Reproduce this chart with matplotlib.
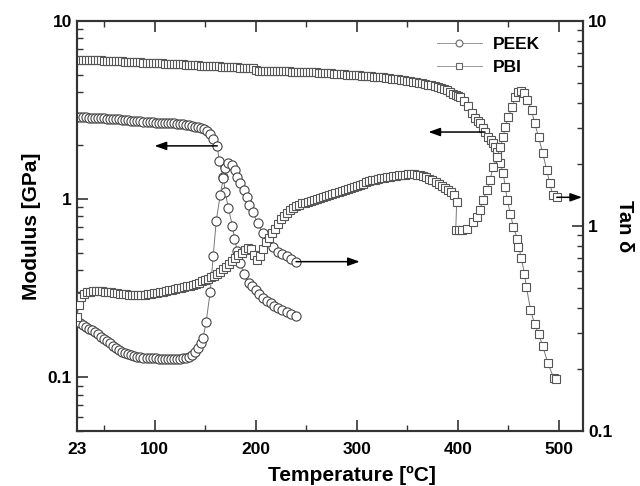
import matplotlib.pyplot as plt
from matplotlib.ticker import FixedLocator, FuncFormatter, LogLocator, NullFormatter

plt.rcParams['font.family'] = ['Liberation Sans', 'DejaVu Sans']
plt.rcParams['font.weight'] = 'bold'

# PEEK storage modulus [GPa] (left axis)
peek_mod_t = [23, 26, 29, 32, 35, 38, 41, 44, 47, 50,
              53, 56, 59, 62, 65, 68, 71, 74, 77, 80,
              83, 86, 89, 92, 95, 98, 101, 104, 107, 110,
              113, 116, 119, 122, 125, 128, 131, 134, 137, 140,
              143, 146, 149, 152, 155, 158, 162, 164, 168, 170,
              173, 177, 179, 182, 185, 188, 193, 196, 200, 203,
              207, 211, 215, 218, 222, 226, 231, 235, 240]
peek_mod = [2.90, 2.89, 2.89, 2.88, 2.87, 2.86, 2.86, 2.85, 2.85, 2.84,
            2.83, 2.83, 2.82, 2.81, 2.80, 2.79, 2.78, 2.77, 2.76, 2.76,
            2.75, 2.74, 2.72, 2.71, 2.70, 2.70, 2.69, 2.69, 2.68, 2.68,
            2.67, 2.67, 2.66, 2.65, 2.64, 2.63, 2.61, 2.59, 2.57, 2.55,
            2.53, 2.50, 2.46, 2.40, 2.32, 2.17, 1.99, 1.63, 1.33, 1.09,
            0.89, 0.71, 0.60, 0.51, 0.44, 0.38, 0.34, 0.325, 0.31, 0.295,
            0.28, 0.27, 0.26, 0.252, 0.244, 0.238, 0.232, 0.226, 0.220]

# PEEK tan delta (right axis)
peek_tan_t = [23, 26, 29, 32, 35, 38, 41, 44, 47, 50,
              53, 56, 59, 62, 65, 68, 71, 74, 77, 80,
              83, 86, 89, 92, 95, 98, 101, 104, 107, 110,
              113, 116, 119, 122, 125, 128, 131, 134, 137, 140,
              143, 146, 148, 151, 155, 158, 161, 165, 168, 170,
              173, 177, 180, 182, 185, 188, 191, 193, 197, 202,
              207, 212, 217, 222, 226, 231, 235, 240]
peek_tan = [0.345, 0.337, 0.330, 0.323, 0.316, 0.312, 0.305, 0.297, 0.289, 0.281,
            0.274, 0.268, 0.261, 0.255, 0.249, 0.244, 0.240, 0.237, 0.234, 0.232,
            0.231, 0.230, 0.228, 0.227, 0.227, 0.226, 0.226, 0.225, 0.225, 0.225,
            0.225, 0.225, 0.225, 0.225, 0.225, 0.226, 0.228, 0.230, 0.235, 0.243,
            0.255, 0.268, 0.285, 0.340, 0.477, 0.714, 1.06, 1.42, 1.71, 1.92,
            2.03, 1.99, 1.88, 1.73, 1.62, 1.50, 1.38, 1.27, 1.17, 1.03,
            0.92, 0.85, 0.79, 0.75, 0.73, 0.71, 0.69, 0.67]

# PBI storage modulus [GPa] (left axis)
pbi_mod_t = [23, 26, 29, 32, 35, 38, 41, 44, 47, 50,
             53, 56, 59, 62, 65, 68, 71, 74, 77, 80,
             83, 86, 89, 92, 95, 98, 101, 104, 107, 110,
             113, 116, 119, 122, 125, 128, 131, 134, 137, 140,
             143, 146, 149, 152, 155, 158, 161, 164, 167, 170,
             173, 176, 179, 182, 185, 188, 191, 194, 197, 200,
             203, 206, 209, 212, 215, 218, 221, 224, 227, 230,
             233, 236, 239, 242, 245, 248, 251, 254, 257, 260,
             263, 266, 269, 272, 275, 278, 281, 284, 287, 290,
             293, 296, 299, 302, 305, 308, 311, 314, 317, 320,
             323, 326, 329, 332, 335, 338, 341, 344, 347, 350,
             353, 356, 359, 362, 365, 368, 371, 374, 377, 380,
             383, 386, 389, 392, 395, 398, 400, 402, 406, 410,
             414, 417, 420, 422, 425, 427, 430, 433, 435, 437,
             439, 442, 445, 447, 449, 452, 455, 459, 460, 463,
             466, 468, 472, 476, 480, 484, 489, 495, 497]
pbi_mod = [6.05, 6.05, 6.04, 6.04, 6.03, 6.02, 6.02, 6.01, 6.00, 5.98,
           5.97, 5.96, 5.95, 5.94, 5.93, 5.92, 5.91, 5.90, 5.89, 5.88,
           5.86, 5.85, 5.84, 5.83, 5.82, 5.81, 5.80, 5.79, 5.77, 5.76,
           5.75, 5.74, 5.73, 5.72, 5.71, 5.70, 5.68, 5.67, 5.66, 5.65,
           5.63, 5.62, 5.61, 5.59, 5.58, 5.57, 5.56, 5.55, 5.53, 5.52,
           5.51, 5.50, 5.49, 5.48, 5.47, 5.46, 5.45, 5.44, 5.43, 5.30,
           5.25, 5.24, 5.23, 5.23, 5.23, 5.22, 5.22, 5.22, 5.21, 5.21,
           5.21, 5.20, 5.20, 5.20, 5.19, 5.18, 5.18, 5.17, 5.16, 5.15,
           5.13, 5.12, 5.10, 5.09, 5.07, 5.06, 5.04, 5.03, 5.01, 5.00,
           4.99, 4.97, 4.96, 4.95, 4.93, 4.92, 4.90, 4.89, 4.87, 4.86,
           4.84, 4.82, 4.80, 4.78, 4.75, 4.73, 4.70, 4.68, 4.65, 4.62,
           4.59, 4.56, 4.53, 4.50, 4.46, 4.43, 4.39, 4.35, 4.31, 4.27,
           4.22, 4.16, 4.10, 4.00, 3.90, 3.84, 3.80, 3.74, 3.55, 3.33,
           3.05, 2.85, 2.75, 2.67, 2.50, 2.38, 2.23, 2.15, 2.07, 1.95,
           1.84, 1.59, 1.40, 1.17, 0.99, 0.83, 0.70, 0.60, 0.54, 0.47,
           0.38, 0.32, 0.24, 0.20, 0.175, 0.151, 0.121, 0.099, 0.098]

# PBI tan delta (right axis)
pbi_tan_t = [23, 25, 27, 30, 33, 36, 39, 42, 45, 48,
             51, 54, 57, 60, 63, 66, 69, 72, 75, 78,
             81, 84, 87, 90, 93, 96, 99, 102, 105, 108,
             111, 114, 117, 120, 123, 126, 129, 132, 135, 138,
             141, 144, 147, 150, 153, 156, 159, 162, 165, 168,
             171, 174, 177, 180, 183, 186, 189, 192, 195, 198,
             201, 204, 207, 210, 213, 216, 219, 222, 225, 228,
             231, 234, 237, 240, 243, 246, 249, 252, 255, 258,
             261, 264, 267, 270, 273, 276, 279, 282, 285, 288,
             291, 294, 297, 300, 303, 306, 309, 312, 315, 318,
             321, 324, 327, 330, 333, 336, 339, 342, 345, 348,
             351, 354, 357, 360, 363, 366, 369, 372, 375, 378,
             381, 384, 387, 390, 393, 396, 399, 398, 401, 404,
             409, 415, 419, 422, 425, 429, 432, 435, 439, 442,
             445, 447, 450, 454, 457, 460, 463, 466, 469, 473,
             476, 480, 484, 488, 491, 494, 498]
pbi_tan = [0.36, 0.41, 0.45, 0.466, 0.474, 0.478, 0.481, 0.482, 0.482, 0.480,
           0.478, 0.476, 0.474, 0.472, 0.470, 0.468, 0.466, 0.465, 0.463, 0.462,
           0.461, 0.460, 0.460, 0.461, 0.464, 0.467, 0.470, 0.473, 0.476, 0.479,
           0.482, 0.485, 0.488, 0.492, 0.496, 0.500, 0.504, 0.508, 0.512, 0.517,
           0.523, 0.530, 0.537, 0.545, 0.554, 0.563, 0.573, 0.585, 0.598, 0.614,
           0.632, 0.652, 0.675, 0.700, 0.721, 0.742, 0.763, 0.785, 0.77, 0.72,
           0.68, 0.71, 0.77, 0.84, 0.87, 0.92, 0.97, 1.02, 1.08, 1.12,
           1.16, 1.20, 1.23, 1.25, 1.27, 1.29, 1.30, 1.31, 1.33, 1.34,
           1.36, 1.37, 1.38, 1.40, 1.41, 1.43, 1.45, 1.46, 1.48, 1.50,
           1.52, 1.53, 1.55, 1.57, 1.59, 1.61, 1.63, 1.65, 1.67, 1.68,
           1.70, 1.71, 1.72, 1.73, 1.74, 1.75, 1.76, 1.77, 1.78, 1.78,
           1.79, 1.79, 1.79, 1.78, 1.77, 1.75, 1.73, 1.70, 1.67, 1.63,
           1.60, 1.56, 1.53, 1.49, 1.46, 1.42, 1.31, 0.96, 0.96, 0.96,
           0.97, 1.05, 1.11, 1.20, 1.34, 1.50, 1.68, 1.94, 2.17, 2.43,
           2.72, 3.04, 3.40, 3.81, 4.26, 4.50, 4.56, 4.46, 4.12, 3.68,
           3.18, 2.72, 2.27, 1.88, 1.62, 1.42, 1.38]

x_ticks = [23, 100, 200, 300, 400, 500]
x_minor = [50, 150, 250, 350, 450]

fig = plt.figure(figsize=(6.4, 4.86), dpi=100)
ax = fig.add_axes([0.120, 0.113, 0.791, 0.844])
ax2 = ax.twinx()

line_kw = dict(color='#777777', lw=0.7, mfc='white', mew=0.8)
circ_kw = dict(marker='o', ms=6.6, mec='#444444', **line_kw)
sq_kw = dict(marker='s', ms=5.8, mec='#555555', **line_kw)

l1, = ax.plot(peek_mod_t, peek_mod, label='PEEK', zorder=3, **circ_kw)
l2, = ax.plot(pbi_mod_t, pbi_mod, label='PBI', zorder=3, **sq_kw)
ax2.plot(peek_tan_t, peek_tan, zorder=3, **circ_kw)
ax2.plot(pbi_tan_t, pbi_tan, zorder=3, **sq_kw)

ax.set_yscale('log')
ax2.set_yscale('log')
ax.set_xlim(23, 524)
ax.set_ylim(0.05, 10)
ax2.set_ylim(0.1, 10)

# arrows pointing each curve at its axis
arr = dict(arrowstyle='-|>,head_length=0.7,head_width=0.25', color='black',
           lw=1.1, shrinkA=0, shrinkB=0)
ax.annotate('', xy=(100, 1.99), xytext=(162, 1.99), arrowprops=arr, zorder=4)
ax.annotate('', xy=(371, 2.38), xytext=(427, 2.38), arrowprops=arr, zorder=4)
ax2.annotate('', xy=(303, 0.67), xytext=(240, 0.67), arrowprops=arr, zorder=4)
ax2.annotate('', xy=(523, 1.38), xytext=(498, 1.38), arrowprops=arr, zorder=4)

fmt = FuncFormatter(lambda v, p: '%g' % v)
ax.xaxis.set_major_locator(FixedLocator(x_ticks))
ax.xaxis.set_minor_locator(FixedLocator(x_minor))
for a in (ax, ax2):
    a.yaxis.set_major_locator(LogLocator(base=10, numticks=10))
    a.yaxis.set_minor_locator(LogLocator(base=10, subs=range(2, 10), numticks=20))
    a.yaxis.set_major_formatter(fmt)
    a.yaxis.set_minor_formatter(NullFormatter())
    a.tick_params(which='major', direction='in', length=8, width=1.2,
                  labelsize=12.5, colors='#333333', labelcolor='black')
    a.tick_params(which='minor', direction='in', length=4, width=1.0,
                  colors='#333333')
ax.tick_params(axis='x', which='both', top=True)
ax.tick_params(axis='x', which='major', pad=8)

for a in (ax, ax2):
    for s in a.spines.values():
        s.set_linewidth(1.5)
        s.set_color('#333333')

ax.set_xlabel('Temperature [ºC]', fontsize=15, fontweight='bold', labelpad=4)
ax.xaxis.set_label_coords(0.543, -0.085)
ax.set_ylabel('Modulus [GPa]', fontsize=15, fontweight='bold', labelpad=5)
ax2.set_ylabel('Tan δ', fontsize=14.5, fontweight='bold', rotation=270, labelpad=16)

leg = ax.legend(handles=[l1, l2], loc='upper right', bbox_to_anchor=(0.945, 1.0),
                frameon=False, fontsize=12.5, handlelength=2.6, handletextpad=0.6,
                labelspacing=0.45, markerscale=0.75)
for h in leg.legend_handles:
    h.set_color('#999999')
    h.set_markeredgecolor('#666666')

fig.savefig('out.png', dpi=100)
